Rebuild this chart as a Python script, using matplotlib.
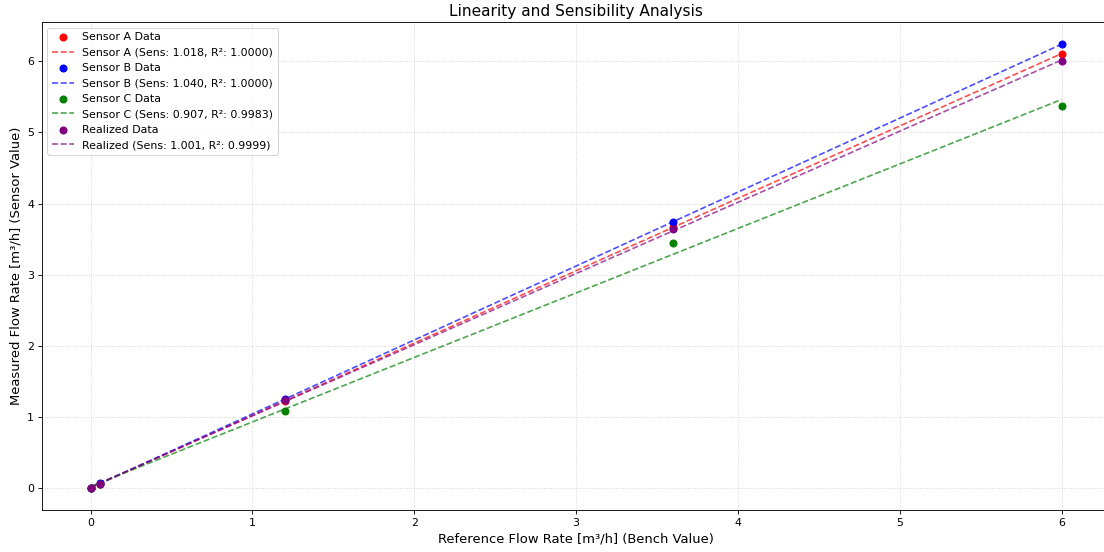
import numpy as np
import matplotlib
matplotlib.use("Agg")
import matplotlib.pyplot as plt

# Bench reference flow rates [m³/h]
reference = [0.0, 0.06, 1.2, 3.6, 6.0]

# Measured values from each sensor [m³/h]
sensor_a = [0.0, 0.061, 1.222, 3.665, 6.108]
sensor_b = [0.0, 0.062, 1.248, 3.744, 6.240]
sensor_c = [0.0, 0.05, 1.08, 3.45, 5.37]
realized = [0.0, 0.06, 1.23, 3.64, 6.00]

series_names = ["Sensor A", "Sensor B", "Sensor C", "Realized"]
series_colors = ["red", "blue", "green", "purple"]

fig = plt.figure(figsize=(14, 7))
ax = fig.add_axes([0.038, 0.076, 0.9675, 0.884])

x = np.array(reference)
for name, vals, color in zip(series_names, [sensor_a, sensor_b, sensor_c, realized], series_colors):
    y = np.array(vals)
    slope, intercept = np.polyfit(x, y, 1)
    fit = slope * x + intercept
    r2 = 1 - np.sum((y - fit) ** 2) / np.sum((y - y.mean()) ** 2)
    data_label = f"{name} Data"
    ax.scatter(x, y, color=color, s=40, zorder=3, label=data_label)
    xs = np.array([x.min(), x.max()])
    ax.plot(xs, slope * xs + intercept, linestyle="--", color=color, alpha=0.7,
            linewidth=1.5, label=f"{name} (Sens: {slope:.3f}, R²: {r2:.4f})")

ax.set_title("Linearity and Sensibility Analysis", fontsize=14)
ax.set_xlabel("Reference Flow Rate [m³/h] (Bench Value)", fontsize=12)
ax.set_ylabel("Measured Flow Rate [m³/h] (Sensor Value)", fontsize=12)
ax.grid(True, linestyle=":", alpha=0.6)
ax.legend(loc="upper left", fontsize=10)

fig.savefig("out.png", dpi=1104 / 14)
